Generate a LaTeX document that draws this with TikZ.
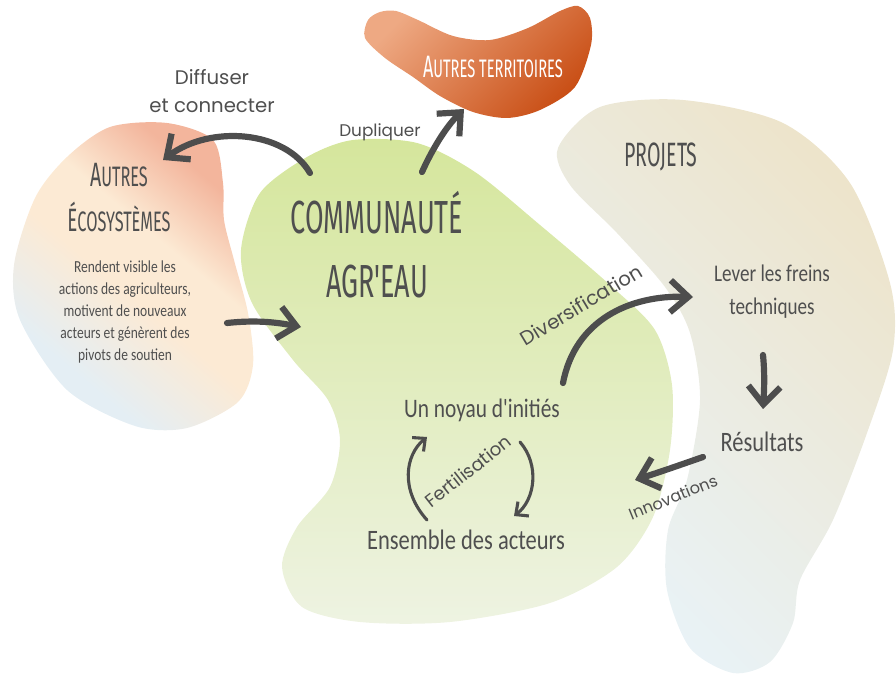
\documentclass[tikz,border=0pt]{standalone}
\usepackage{fontspec}
\setmainfont{Carlito}
\newfontfamily\handfont[FakeStretch=0.8]{Carlito}
\newfontfamily\capsfont[FakeStretch=0.58]{Fira Sans}
\newfontfamily\labelfont{Poppins}
\usetikzlibrary{arrows.meta}
\definecolor{ink}{HTML}{4F4F4F}
\definecolor{arrowgray}{HTML}{4D4D4D}
\definecolor{salmon}{HTML}{F3B59C}
\definecolor{peach}{HTML}{FCEAD4}
\definecolor{skyblue}{HTML}{E4EEF4}
\definecolor{leaf}{HTML}{D5E69C}
\definecolor{paleleaf}{HTML}{EEF3E2}
\definecolor{sand}{HTML}{EDE4CB}
\definecolor{palesky}{HTML}{E9F3F8}
\definecolor{rust}{HTML}{C94F16}
\definecolor{apricot}{HTML}{EEA983}
\pgfdeclareverticalshading{ecoshade}{100bp}{color(0bp)=(skyblue); color(30bp)=(skyblue); color(47bp)=(peach); color(58bp)=(peach); color(72bp)=(salmon); color(100bp)=(salmon)}

\begin{document}
\begin{tikzpicture}[x=0.025cm,y=-0.025cm,
  title/.style={text=ink,font=\capsfont,align=center},
  plain/.style={text=ink,font=\handfont,align=center},
  tag/.style={text=ink,font=\labelfont,align=center},
  bigarrow/.style={draw=arrowgray,line width=4.4pt,line cap=round,-{Straight Barb[length=4.5mm,width=8mm]}},
  smallarrow/.style={draw=arrowgray,line width=2.2pt,line cap=round,-{Straight Barb[length=2.4mm,width=4.5mm]}}]
\useasboundingbox (0,0) rectangle (896,675);

% blobs
\shade[shading=ecoshade,shading angle=-40]
  plot[smooth cycle] coordinates {(110,127) (167,123) (213,140) (223,183) (224,220) (234,260) (248,313) (253,365) (238,402) (187,428) (135,426) (67,390) (20,320) (14,265) (35,198) (67,157)};
\shade[top color=leaf,bottom color=paleleaf]
  plot[smooth cycle] coordinates {(353,140) (417,143) (475,172) (540,225) (610,285) (655,330) (672,385) (670,450) (653,517) (617,567) (550,603) (450,622) (360,622) (302,607) (282,567) (297,527) (330,487) (340,440) (328,400) (293,360) (252,303) (241,250) (260,193) (307,157)};
\shade[top color=sand,bottom color=palesky,shading angle=-45]
  plot[smooth cycle] coordinates {(600,107) (683,100) (783,123) (850,183) (890,283) (893,350) (867,433) (833,520) (800,580) (793,623) (770,662) (733,673) (690,648) (667,590) (668,530) (687,480) (700,400) (690,333) (665,287) (617,233) (570,185) (558,148)};
\shade[top color=apricot,bottom color=rust,shading angle=45]
  plot[smooth cycle] coordinates {(365,38) (368,20) (380,12) (396,11) (418,20) (453,36) (490,40) (528,28) (560,11) (578,6) (590,18) (591,45) (575,87) (540,110) (507,118) (473,112) (440,96) (413,77) (385,58)};

% titles
\node[title,font=\capsfont\fontsize{20}{32}\selectfont] (eco) at (119,198) {{\fontsize{24}{24}\selectfont A}UTRES\\{\fontsize{23}{23}\selectfont É}COSYSTÈMES};
\node[title,font=\capsfont\fontsize{33}{45.5}\selectfont] (comm) at (377,245) {COMMUNAUTÉ\\AGR'EAU};
\node[title,text=white,font=\capsfont\fontsize{18}{18}\selectfont] (terr) at (493,67) {{\fontsize{22}{22}\selectfont A}UTRES TERRITOIRES};
\node[title,font=\capsfont\fontsize{24}{24}\selectfont] (proj) at (661,157) {PROJETS};

% texts
\node[plain,font=\handfont\fontsize{12}{15.6}\selectfont] (ecotext) at (125,312) {Rendent visible les\\actions des agriculteurs,\\motivent de nouveaux\\acteurs et génèrent des\\pivots de soutien};
\node[plain,font=\handfont\fontsize{17}{23.5}\selectfont] (lever) at (772,292) {Lever les freins\\techniques};
\node[plain,font=\handfont\fontsize{20}{20}\selectfont] (res) at (762,442) {Résultats};
\node[plain,font=\handfont\fontsize{19}{19}\selectfont] (noyau) at (482,410) {Un noyau d'initiés};
\node[plain,font=\handfont\fontsize{20}{20}\selectfont] (ensemble) at (466,540) {Ensemble des acteurs};

% arrow labels
\node[tag,font=\labelfont\fontsize{14}{20}\selectfont] (diff) at (212,91) {Diffuser\\et connecter};
\node[tag,font=\labelfont\fontsize{12}{12}\selectfont] (dupl) at (380,132) {Dupliquer};
\node[tag,font=\labelfont\fontsize{14}{14}\selectfont,rotate=31] (divers) at (581,305) {Diversification};
\node[tag,font=\labelfont\fontsize{13}{13}\selectfont,rotate=38] (fert) at (468,471) {Fertilisation};
\node[tag,font=\labelfont\fontsize{11.5}{11.5}\selectfont,rotate=22] (innov) at (673,497) {Innovations};

% arrow ends
\coordinate (diffA) at (310,173);
\coordinate (diffB) at (163,160);
\coordinate (ecoA) at (227,323);
\coordinate (ecoB) at (301,327);
\coordinate (duplA) at (422,172);
\coordinate (duplB) at (464,109);
\coordinate (divA) at (563,383);
\coordinate (divB) at (693,297);
\coordinate (leverA) at (763,355);
\coordinate (leverB) at (763,409);
\coordinate (resA) at (703,457);
\coordinate (resB) at (635,480);
\coordinate (fertA) at (427,520);
\coordinate (fertB) at (427,437);
\coordinate (fertC) at (520,442);
\coordinate (fertD) at (514,516);

\draw[bigarrow] (diffA) .. controls (285,130) and (210,125) .. (diffB);
\draw[bigarrow] (ecoA) .. controls (255,320) and (275,322) .. (ecoB);
\draw[bigarrow] (duplA) .. controls (432,150) and (445,128) .. (duplB);
\draw[bigarrow] (divA) .. controls (575,320) and (630,295) .. (divB);
\draw[bigarrow] (leverA) .. controls (765,375) and (764,392) .. (leverB);
\draw[bigarrow] (resA) .. controls (680,465) and (660,472) .. (resB);
\draw[smallarrow] (fertA) .. controls (400,490) and (405,455) .. (fertB);
\draw[smallarrow] (fertC) .. controls (540,465) and (535,500) .. (fertD);
\end{tikzpicture}
\end{document}
